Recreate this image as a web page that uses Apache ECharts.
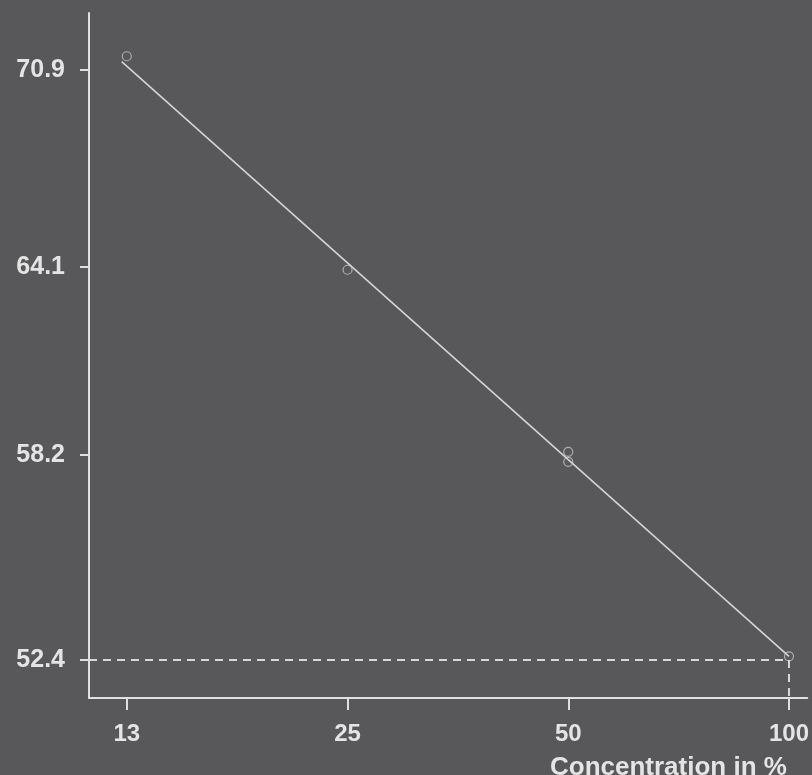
<!DOCTYPE html>
<html style="height: 100%">
<head>
<meta charset="utf-8">
<script type="text/javascript" src="https://cdn.jsdelivr.net/npm/echarts@6/dist/echarts.min.js"></script>
</head>
<body style="width: 100%; height: 100%; margin: 0; background: #58585a">
<div id="main" style="width: 812px; height: 775px;"></div>
<script type="text/javascript">
// log-log plot: concentration vs value
var xTicks = [12.5, 25, 50, 100];
var xLabels = ['13', '25', '50', '100'];
var yTicks = [52.4, 58.2, 64.1, 70.9];
var yLabels = ['52.4', '58.2', '64.1', '70.9'];

var pointX = [12.5, 25, 50, 50, 100];
var pointY = [71.4, 64.0, 58.3, 58.0, 52.5];

var fitX = [12.3, 100];
var fitY = [71.2, 52.5];

var refX = 100;
var refY = 52.4;

var xMin = 11.1, xMax = 105.9;
var yMin = 51.39, yMax = 73.0;

var zip = function(a, b) {
    return a.map(function(v, i) { return [v, b[i]]; });
};

var labelFor = function(ticks, labels) {
    return function(v) {
        for (var i = 0; i < ticks.length; i++) {
            if (Math.abs(ticks[i] - v) < 0.01) return labels[i];
        }
        return '';
    };
};

var txt = '#e4e4e4';
var myChart = echarts.init(document.getElementById('main'));
var option = {
    backgroundColor: '#58585a',
    animation: false,
    title: {
        text: 'Concentration in %',
        left: 545,
        top: 750,
        textStyle: { color: txt, fontSize: 26, fontWeight: 'bold', fontFamily: 'Liberation Sans' }
    },
    grid: { left: 89, right: 0, top: 13, bottom: 77 },
    xAxis: {
        type: 'log',
        logBase: 10,
        min: xMin,
        max: xMax,
        splitLine: { show: false },
        axisLine: { lineStyle: { color: '#e0e0e0', width: 2 } },
        axisTick: { show: true, inside: false, length: 12, lineStyle: { color: '#e0e0e0', width: 2 }, customValues: xTicks },
        axisLabel: {
            customValues: xTicks,
            formatter: labelFor(xTicks, xLabels),
            color: txt, fontSize: 24, fontWeight: 'bold', fontFamily: 'Liberation Sans',
            margin: 24
        }
    },
    yAxis: {
        type: 'log',
        logBase: 10,
        min: yMin,
        max: yMax,
        splitLine: { show: false },
        axisLine: { lineStyle: { color: '#e0e0e0', width: 2 } },
        axisTick: { show: true, length: 9, lineStyle: { color: '#e0e0e0', width: 2 }, customValues: yTicks },
        axisLabel: {
            customValues: yTicks,
            formatter: labelFor(yTicks, yLabels),
            color: txt, fontSize: 25, fontWeight: 'bold', fontFamily: 'Liberation Sans',
            margin: 24
        }
    },
    series: [
        {
            name: 'reference',
            type: 'line',
            symbol: 'none',
            lineStyle: { color: '#d8d8d8', width: 2, type: [8, 6] },
            data: [[xMin, refY], [refX, refY], [refX, yMin]]
        },
        {
            name: 'fit',
            type: 'line',
            symbol: 'none',
            lineStyle: { color: '#d4d4d4', width: 1.6 },
            data: zip(fitX, fitY)
        },
        {
            name: 'measured',
            type: 'scatter',
            symbol: 'circle',
            symbolSize: 9,
            itemStyle: { color: 'rgba(0,0,0,0)', borderColor: '#c4c4c4', borderWidth: 1.2 },
            data: zip(pointX, pointY)
        }
    ]
};
myChart.setOption(option);
</script>
</body>
</html>
